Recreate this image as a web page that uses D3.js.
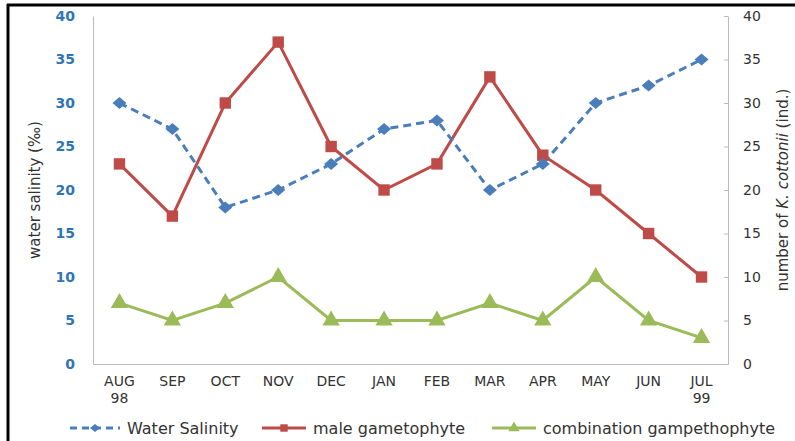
<!DOCTYPE html>
<html><head><meta charset="utf-8">
<script src="https://cdn.jsdelivr.net/npm/d3@7/dist/d3.min.js"></script>
<style>body{margin:0;background:#fff}svg{display:block}</style>
</head><body><svg id="c" width="795" height="441"></svg>
<script>
const months = ["AUG","SEP","OCT","NOV","DEC","JAN","FEB","MAR","APR","MAY","JUN","JUL"];
const monthSub = ["98","","","","","","","","","","","99"];
const salinity = [30,27,18,20,23,27,28,20,23,30,32,35];
const male = [23,17,30,37,25,20,23,33,24,20,15,10];
const combination = [7,5,7,10,5,5,5,7,5,10,5,3];
const yTicks = [0,5,10,15,20,25,30,35,40];

const svg = d3.select("#c");
const L = 93, R = 728, T = 16, B = 364;
const x = d3.scaleBand().domain(months).range([L, R]);
const yL = d3.scaleLinear().domain([0,40]).range([B, T]);
const yR = d3.scaleLinear().domain([0,40]).range([B, T]);
const cx = m => x(m) + x.bandwidth()/2;

// frame
svg.append("line").attr("x1",7).attr("x2",795).attr("y1",5).attr("y2",5).attr("stroke","#000").attr("stroke-width",3);
svg.append("line").attr("x1",8).attr("x2",8).attr("y1",4).attr("y2",441).attr("stroke","#000").attr("stroke-width",3);

// axes
const gl = svg.append("g").attr("transform",`translate(${L},0)`)
  .call(d3.axisLeft(yL).tickValues(yTicks).tickSize(0).tickPadding(18));
gl.select(".domain").attr("stroke","#bbb");
gl.selectAll("text").attr("fill","#2f75b5").attr("font-family","DejaVu Sans").attr("font-weight","bold").attr("font-size",14);

const gr = svg.append("g").attr("transform",`translate(${R},0)`)
  .call(d3.axisRight(yR).tickValues(yTicks).tickSizeInner(-4).tickSizeOuter(0).tickPadding(15));
gr.select(".domain").attr("stroke","#bbb");
gr.selectAll("line").attr("stroke","#bbb");
gr.selectAll("text").attr("fill","#333").attr("font-family","DejaVu Sans").attr("font-size",14);

const gb = svg.append("g").attr("transform",`translate(0,${B})`)
  .call(d3.axisBottom(x).tickSize(0).tickPadding(12).tickSizeOuter(0));
gb.select(".domain").attr("stroke","#bbb");
gb.selectAll("text").attr("fill","#333").attr("font-family","DejaVu Sans").attr("font-size",14)
  .each(function(d,i){
    const t = d3.select(this);
    if (monthSub[i]) t.append("tspan").attr("x",0).attr("dy","1.2em").text(monthSub[i]);
  });

// axis titles
svg.append("text").attr("transform",`translate(40,${(T+B)/2}) rotate(-90)`).attr("text-anchor","middle")
  .attr("font-family","DejaVu Sans").attr("font-size",15).attr("fill","#333").text("water salinity (‰)");
const rt = svg.append("text").attr("transform",`translate(788,${(T+B)/2}) rotate(-90)`).attr("text-anchor","middle")
  .attr("font-family","DejaVu Sans").attr("font-size",15).attr("fill","#333");
rt.append("tspan").text("number of ");
rt.append("tspan").attr("font-style","italic").text("K. cottonii");
rt.append("tspan").text(" (ind.)");

const blue="#4a7ebb", red="#be4b48", green="#9bbb59";
const line = (y) => d3.line().x((d,i)=>cx(months[i])).y(d=>y(d));

svg.append("path").datum(male).attr("d",line(yR)).attr("fill","none").attr("stroke",red).attr("stroke-width",3);
svg.append("path").datum(combination).attr("d",line(yR)).attr("fill","none").attr("stroke",green).attr("stroke-width",3);
svg.append("path").datum(salinity).attr("d",line(yL)).attr("fill","none").attr("stroke",blue).attr("stroke-width",3).attr("stroke-dasharray","8,5");

const sq = d3.symbol().type(d3.symbolSquare).size(130);
const tri = d3.symbol().type(d3.symbolTriangle).size(130);
svg.selectAll(".m").data(male).join("path").attr("d",sq).attr("fill",red)
  .attr("transform",(d,i)=>`translate(${cx(months[i])},${yR(d)})`);
svg.selectAll(".c").data(combination).join("path").attr("d",tri).attr("fill",green)
  .attr("transform",(d,i)=>`translate(${cx(months[i])},${yR(d)})`);
svg.selectAll(".s").data(salinity).join("path").attr("d","M-7,0L0,-6L7,0L0,6Z").attr("fill",blue)
  .attr("transform",(d,i)=>`translate(${cx(months[i])},${yL(d)})`);

// legend
const leg = [
  {name:"Water Salinity", c:blue, dash:"7,5", sym:"d", x0:70, x1:120},
  {name:"male gametophyte", c:red, dash:null, sym:"s", x0:262, x1:306},
  {name:"combination gampethophyte", c:green, dash:null, sym:"t", x0:492, x1:536}
];
const ly = 428;
leg.forEach(l=>{
  svg.append("line").attr("x1",l.x0).attr("x2",l.x1).attr("y1",ly).attr("y2",ly).attr("stroke",l.c).attr("stroke-width",3)
    .attr("stroke-dasharray",l.dash);
  const d = l.sym==="d" ? "M-5,0L0,-4L5,0L0,4Z" : d3.symbol().type(l.sym==="s"?d3.symbolSquare:d3.symbolTriangle).size(55)();
  svg.append("path").attr("d",d).attr("fill",l.c).attr("transform",`translate(${(l.x0+l.x1)/2},${ly})`);
  svg.append("text").attr("x",l.x1+7).attr("y",ly+6).attr("font-family","DejaVu Sans").attr("font-size",16).attr("fill","#333").text(l.name);
});
</script></body></html>
